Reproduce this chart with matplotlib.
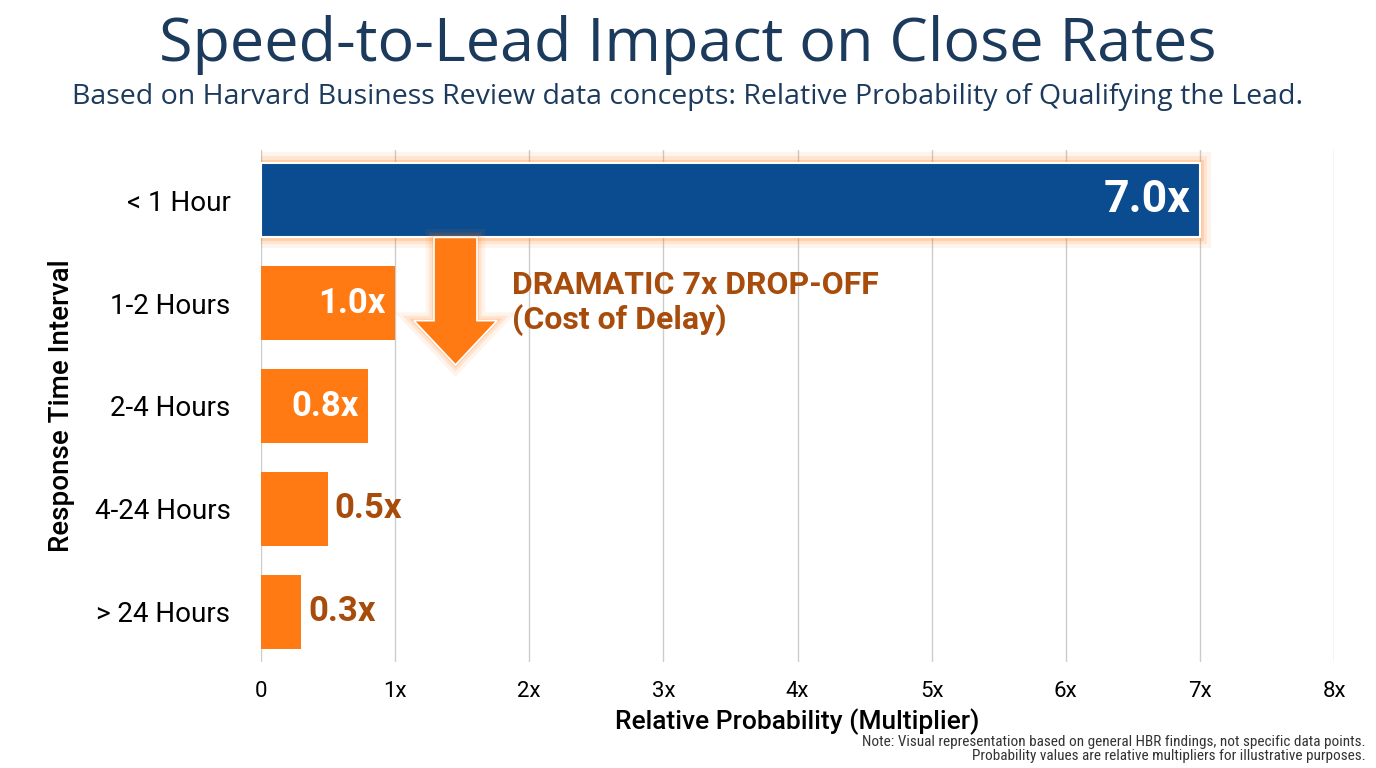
import matplotlib.pyplot as plt
from matplotlib.patches import Polygon

categories = ["< 1 Hour", "1-2 Hours", "2-4 Hours", "4-24 Hours", "> 24 Hours"]
values = [7.0, 1.0, 0.8, 0.5, 0.3]
labels = ["7.0x", "1.0x", "0.8x", "0.5x", "0.3x"]
xticks = [0, 1, 2, 3, 4, 5, 6, 7, 8]
xtick_labels = ["0", "1x", "2x", "3x", "4x", "5x", "6x", "7x", "8x"]

blue = "#0A4C8F"
orange = "#FF7A12"
dark_orange = "#A84C0C"
navy = "#1B3A5C"

plt.rcParams['font.family'] = ['Roboto', 'DejaVu Sans']

fig = plt.figure(figsize=(13.76, 7.68), dpi=100)
ax = fig.add_axes([261 / 1376, 106 / 768, 1073 / 1376, 512 / 768])

ypos = list(range(len(categories)))
colors = [blue] + [orange] * (len(categories) - 1)

# soft glow around the top bar
for lw, a in [(16, 0.08), (10, 0.12), (5, 0.2)]:
    ax.barh(ypos[0], values[0], height=0.72, color="none", edgecolor=orange,
            linewidth=lw, alpha=a, zorder=2)
ax.barh(ypos, values, height=0.72, color=colors, edgecolor=["white"] + ["none"] * 4,
        linewidth=1.5, zorder=3)

for i, (v, lab) in enumerate(zip(values, labels)):
    if v >= 0.7:
        ax.text(v - 0.07, i, lab, ha="right", va="center", color="white",
                fontsize=32 if i == 0 else 25, fontweight="bold", zorder=5)
    else:
        ax.text(v + 0.05, i, lab, ha="left", va="center", color=dark_orange,
                fontsize=25, fontweight="bold", zorder=5)

# drop-off arrow
cx, sw, hw = 1.45, 0.16, 0.31
top, neck, tip = 0.36, 1.17, 1.6
arrow_pts = [(cx - sw, top), (cx + sw, top), (cx + sw, neck), (cx + hw, neck),
             (cx, tip), (cx - hw, neck), (cx - sw, neck)]
for lw, a in [(12, 0.08), (7, 0.12), (3, 0.2)]:
    ax.add_patch(Polygon(arrow_pts, closed=True, facecolor="none", edgecolor=orange,
                         linewidth=lw, alpha=a, zorder=4))
ax.add_patch(Polygon(arrow_pts, closed=True, facecolor=orange, edgecolor="white",
                     linewidth=1.2, zorder=4))
ax.text(1.87, 1.0, "DRAMATIC 7x DROP-OFF\n(Cost of Delay)", ha="left", va="center",
        color=dark_orange, fontsize=23, fontweight="bold", linespacing=1.15, zorder=5)

ax.set_xlim(0, 8)
ax.set_ylim(4.49, -0.49)
ax.set_xticks(xticks)
ax.set_xticklabels(xtick_labels, fontsize=16)
ax.set_yticks(ypos)
ax.set_yticklabels(categories, fontsize=20)
ax.tick_params(length=0, pad=22)
ax.tick_params(axis="x", pad=14)
ax.grid(axis="x", color="#CCCCCC", linewidth=1, zorder=0)
ax.set_axisbelow(True)
for s in ax.spines.values():
    s.set_visible(False)
ax.set_xlabel("Relative Probability (Multiplier)", fontsize=19, fontweight="medium", labelpad=4)
ax.set_ylabel("Response Time Interval", fontsize=20, fontweight="medium", labelpad=14)

fig.text(0.5, 1 - 45 / 768, "Speed-to-Lead Impact on Close Rates", ha="center", va="center",
         fontsize=44, color=navy, family=["Open Sans", "DejaVu Sans"])
fig.text(0.5, 1 - 97 / 768,
         "Based on Harvard Business Review data concepts: Relative Probability of Qualifying the Lead.",
         ha="center", va="center", fontsize=20.5, color=navy, family=["Open Sans", "DejaVu Sans"])
fig.text(1366 / 1376, 1 - 749 / 768,
         "Note: Visual representation based on general HBR findings, not specific data points.\n"
         "Probability values are relative multipliers for illustrative purposes.",
         ha="right", va="center", fontsize=11, color="#333333", multialignment="right",
         linespacing=1.05, family=["Roboto Condensed", "Roboto", "DejaVu Sans"])

fig.savefig("out.png", dpi=100, facecolor="white")
